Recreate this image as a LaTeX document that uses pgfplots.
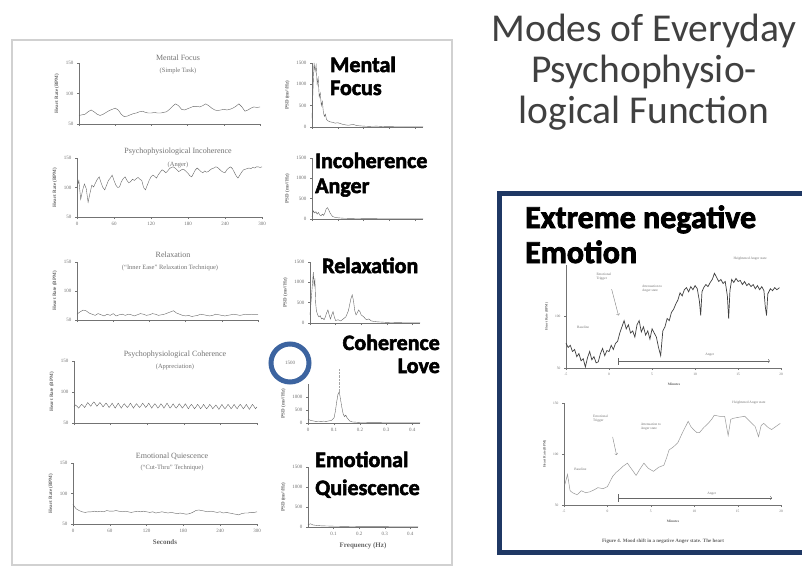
\documentclass[border=0pt]{standalone}
\usepackage{pgfplots}
\pgfplotsset{compat=1.18}
\usepackage{fontspec}
\setmainfont{Liberation Serif}
\newfontfamily\carl{Carlito}
\newfontfamily\heavy{Carlito}[BoldFeatures={FakeBold=2.5}]
\definecolor{navy}{RGB}{31,56,100}
\definecolor{circ}{RGB}{60,100,160}
\definecolor{ttl}{RGB}{64,64,64}
\pgfplotsset{
 base/.style={scale only axis, axis lines*=left, enlargelimits=false, clip=false,
   axis line style={black!55, line width=0.5pt}, tick style={black!55, line width=0.4pt},
   major tick length=2pt, tick align=outside,
   tick label style={font=\fontsize{5}{5}\selectfont, text=black!55},
   label style={font=\fontsize{5}{5}\selectfont\bfseries, text=black!60},
   /pgf/number format/1000 sep={}, /pgf/number format/assume math mode=true,
   cycle list={{black!60, no marks, line width=0.55pt}}},
 hr/.style={base, xmin=0, xmax=300, ymin=50, ymax=150, ytick={50,100,150},
   xtick={0,60,120,180,240,300}, ylabel={Heart Rate (BPM)}},
 psd/.style={base, xmin=0, xmax=0.43, ymin=0, ymax=1500, ytick={0,500,1000,1500},
   xtick={0,0.1,0.2,0.3,0.4}, ylabel={PSD (ms²/Hz)}},
 mood/.style={base, xmin=-5, xmax=20.1, ymin=50, ymax=150, xtick={-5,0,5,10,15,20},
   ylabel={Heart Rate (BPM)}, xlabel={Minutes},
   tick label style={font=\fontsize{3.5}{3.5}\selectfont, text=black!55},
   label style={font=\fontsize{3.5}{3.5}\selectfont\bfseries, text=black!60}},
}
\tikzset{ann/.style={font=\fontsize{3.5}{4}\selectfont, text=black!55, align=left}}
\begin{document}
\begin{tikzpicture}[x=1pt,y=1pt]
\fill[white] (0,0) rectangle (802,574);
\draw[black!18, line width=1.2pt] (12,534) rectangle (452,9);

% ---------- Row 1 ----------
\begin{axis}[hr, at={(79pt,450pt)}, anchor=south west, width=181pt, height=61pt, xticklabels={}]
\addplot coordinates {(0,64)(5,65)(10,66)(15,70)(20,73)(25,70)(30,66)(35,64)(40,66)(45,69)(50,72)(55,74)(60,76)(65,73)(70,66)(75,62)(80,63)(85,65)(90,67)(95,68)(100,70)(105,71)(110,69)(115,68)(120,68)(125,69)(130,68)(135,68)(140,69)(145,70)(150,74)(155,79)(160,83)(165,80)(170,74)(175,73)(180,75)(185,77)(190,79)(195,79)(200,78)(205,80)(210,83)(215,80)(220,76)(225,73)(230,72)(235,73)(240,74)(245,73)(250,74)(255,76)(260,79)(265,83)(270,78)(275,71)(280,73)(285,76)(290,78)(295,77)(300,78)};
\end{axis}
\begin{axis}[psd, at={(312pt,447pt)}, anchor=south west, width=111pt, height=64pt, xticklabels={}]
\addplot coordinates {(0,200)(0.004,900)(0.008,1500)(0.012,1300)(0.016,1450)(0.02,1000)(0.024,1150)(0.028,700)(0.032,800)(0.036,500)(0.04,600)(0.044,350)(0.048,250)(0.052,300)(0.056,180)(0.06,150)(0.07,120)(0.08,110)(0.09,90)(0.1,100)(0.11,80)(0.12,60)(0.13,50)(0.14,40)(0.15,50)(0.16,60)(0.17,40)(0.18,30)(0.2,20)(0.22,15)(0.25,20)(0.28,10)(0.3,8)(0.35,5)(0.4,3)(0.43,2)};
\end{axis}

% ---------- Row 2 ----------
\begin{axis}[hr, at={(77pt,357pt)}, anchor=south west, width=185pt, height=59pt]
\addplot coordinates {(0,100)(3,112)(6,80)(9,95)(12,106)(15,98)(18,75)(21,90)(24,104)(27,101)(30,108)(33,114)(36,118)(39,108)(42,100)(45,96)(48,104)(51,112)(54,116)(57,121)(60,112)(63,104)(66,100)(69,101)(72,110)(75,115)(78,118)(81,112)(84,108)(87,110)(90,114)(93,112)(96,115)(99,117)(102,114)(105,112)(108,100)(111,96)(114,104)(117,112)(120,118)(123,121)(126,119)(129,116)(132,122)(135,126)(138,130)(141,128)(144,125)(147,128)(150,132)(153,134)(156,135)(159,133)(162,130)(165,127)(168,129)(171,131)(174,130)(177,127)(180,124)(183,120)(186,118)(189,124)(192,130)(195,133)(198,130)(201,127)(204,125)(207,128)(210,126)(213,127)(216,130)(219,132)(222,133)(225,135)(228,134)(231,131)(234,128)(237,126)(240,125)(243,130)(246,133)(249,135)(252,132)(255,126)(258,120)(261,116)(264,121)(267,126)(270,130)(273,131)(276,132)(279,133)(282,132)(285,134)(288,133)(291,135)(294,135)(297,134)(300,135)};
\end{axis}
\begin{axis}[psd, at={(312pt,355pt)}, anchor=south west, width=111pt, height=61pt, xticklabels={}]
\addplot coordinates {(0,50)(0.005,200)(0.01,150)(0.015,180)(0.02,120)(0.025,160)(0.03,100)(0.035,80)(0.04,120)(0.045,90)(0.05,150)(0.055,250)(0.06,280)(0.065,220)(0.07,150)(0.075,100)(0.08,60)(0.09,40)(0.1,30)(0.12,20)(0.15,15)(0.2,10)(0.3,5)(0.43,2)};
\end{axis}

% ---------- Row 3 ----------
\begin{axis}[hr, at={(77pt,254pt)}, anchor=south west, width=181pt, height=58pt, xticklabels={}]
\addplot coordinates {(0,60)(5,64)(10,67)(15,66)(20,62)(25,60)(30,58)(35,61)(40,59)(45,57)(50,60)(55,58)(60,61)(65,57)(70,59)(75,60)(80,58)(85,60)(90,59)(95,57)(100,59)(105,61)(110,60)(115,58)(120,59)(125,61)(130,60)(135,58)(140,59)(145,60)(150,62)(155,64)(160,66)(165,62)(170,60)(175,58)(180,57)(185,58)(190,56)(195,57)(200,58)(205,60)(210,59)(215,58)(220,57)(225,58)(230,60)(235,59)(240,58)(245,57)(250,58)(255,59)(260,60)(265,59)(270,58)(275,59)(280,60)(285,59)(290,60)(295,59)(300,60)};
\end{axis}
\begin{axis}[psd, at={(310pt,251pt)}, anchor=south west, width=110pt, height=61pt, xticklabels={}]
\addplot coordinates {(0,200)(0.005,600)(0.01,1000)(0.013,1250)(0.016,900)(0.019,1100)(0.022,500)(0.025,300)(0.03,200)(0.035,150)(0.04,180)(0.045,100)(0.05,120)(0.055,80)(0.06,150)(0.065,250)(0.07,320)(0.075,200)(0.08,100)(0.085,200)(0.09,280)(0.095,150)(0.1,60)(0.11,80)(0.12,50)(0.13,100)(0.14,150)(0.15,300)(0.155,450)(0.16,600)(0.165,690)(0.17,550)(0.175,300)(0.18,200)(0.185,250)(0.19,320)(0.195,280)(0.2,200)(0.21,150)(0.22,80)(0.23,100)(0.24,50)(0.26,30)(0.3,15)(0.35,8)(0.43,3)};
\end{axis}

% ---------- Row 4 ----------
\begin{axis}[hr, at={(74pt,151pt)}, anchor=south west, width=183pt, height=62pt, xticklabels={}]
\addplot coordinates {(0,76)(2.5,79)(5,77)(7.5,74)(10,77)(12.5,80)(15,78)(17.5,75)(20,79)(22.5,83)(25,80)(27.5,77)(30,81)(32.5,84)(35,81)(37.5,77)(40,80)(42.5,83)(45,80)(47.5,76)(50,79)(52.5,82)(55,79)(57.5,75)(60,78)(62.5,82)(65,78)(67.5,74)(70,78)(72.5,82)(75,78)(77.5,74)(80,78)(82.5,81)(85,78)(87.5,75)(90,78)(92.5,82)(95,78)(97.5,74)(100,78)(102.5,81)(105,78)(107.5,75)(110,78)(112.5,82)(115,79)(117.5,75)(120,78)(122.5,82)(125,78)(127.5,74)(130,78)(132.5,81)(135,78)(137.5,74)(140,77)(142.5,81)(145,78)(147.5,74)(150,78)(152.5,82)(155,78)(157.5,74)(160,77)(162.5,81)(165,77)(167.5,74)(170,77)(172.5,81)(175,78)(177.5,74)(180,77)(182.5,81)(185,77)(187.5,73)(190,77)(192.5,80)(195,77)(197.5,73)(200,76)(202.5,80)(205,77)(207.5,73)(210,76)(212.5,80)(215,76)(217.5,73)(220,76)(222.5,80)(225,77)(227.5,73)(230,76)(232.5,79)(235,76)(237.5,72)(240,76)(242.5,80)(245,76)(247.5,73)(250,76)(252.5,80)(255,77)(257.5,73)(260,76)(262.5,80)(265,76)(267.5,73)(270,77)(272.5,80)(275,77)(277.5,73)(280,76)(282.5,80)(285,76)(287.5,72)(290,76)(292.5,80)(295,77)(297.5,73)(300,76)};
\end{axis}
\begin{axis}[psd, at={(308pt,151pt)}, anchor=south west, width=112pt, height=39pt, ytick={0,500,1000}]
\addplot coordinates {(0,150)(0.01,100)(0.02,80)(0.03,60)(0.04,70)(0.05,60)(0.06,70)(0.07,60)(0.08,80)(0.09,100)(0.1,200)(0.105,450)(0.11,800)(0.115,1100)(0.12,1200)(0.125,900)(0.13,600)(0.135,350)(0.14,250)(0.145,300)(0.15,200)(0.16,80)(0.17,40)(0.2,20)(0.25,15)(0.3,10)(0.35,8)(0.43,5)};
\addplot[black!35, densely dotted, line width=0.4pt] coordinates {(0.12,1200)(0.12,2100)};
\end{axis}

% ---------- Row 5 ----------
\begin{axis}[hr, at={(73pt,50pt)}, anchor=south west, width=184pt, height=61pt, xlabel={Seconds},
  xlabel style={font=\fontsize{7}{7}\selectfont\bfseries}]
\addplot coordinates {(0,82)(5,75)(10,72)(15,70)(20,69)(25,70)(30,70)(35,71)(40,70)(45,71)(50,70)(55,72)(60,71)(65,71)(70,72)(75,71)(80,70)(85,71)(90,70)(95,69)(100,70)(105,71)(110,70)(115,71)(120,70)(125,69)(130,70)(135,68)(140,69)(145,70)(150,69)(155,68)(160,69)(165,68)(170,67)(175,68)(180,67)(185,66)(190,67)(195,69)(200,72)(205,73)(210,72)(215,71)(220,70)(225,71)(230,70)(235,69)(240,70)(245,68)(250,69)(255,68)(260,67)(265,66)(270,65)(275,67)(280,68)(285,68)(290,69)(295,69)(300,70)};
\end{axis}
\begin{axis}[psd, at={(308pt,47pt)}, anchor=south west, width=110pt, height=60pt, xtick={0.1,0.2,0.3,0.4},
  xlabel={Frequency (Hz)}, xlabel style={font=\fontsize{7}{7}\selectfont\bfseries}]
\addplot coordinates {(0,60)(0.01,80)(0.02,50)(0.05,30)(0.1,20)(0.2,10)(0.3,8)(0.43,5)};
\end{axis}

% ---------- small chart titles ----------
\begin{scope}[every node/.style={text=black!55, inner sep=0pt}]
\node[font=\fontsize{8}{8}\selectfont] at (178,516) {Mental Focus};
\node[font=\fontsize{6.5}{6.5}\selectfont] at (178,503) {(Simple Task)};
\node[font=\fontsize{8}{8}\selectfont] at (178,422) {Psychophysiological Incoherence};
\node[font=\fontsize{6.5}{6.5}\selectfont] at (178,409) {(Anger)};
\node[font=\fontsize{8}{8}\selectfont] at (173,319) {Relaxation};
\node[font=\fontsize{6.5}{6.5}\selectfont] at (170,306) {(“Inner Ease” Relaxation Technique)};
\node[font=\fontsize{8}{8}\selectfont] at (175,219) {Psychophysiological Coherence};
\node[font=\fontsize{6.5}{6.5}\selectfont] at (175,207) {(Appreciation)};
\node[font=\fontsize{8}{8}\selectfont] at (172,118) {Emotional Quiescence};
\node[font=\fontsize{6.5}{6.5}\selectfont] at (172,106) {(“Cut-Thru” Technique)};
\end{scope}

% ---------- highlight circle ----------
\draw[circ, line width=5pt] (290,211) circle (19);
\node[font=\fontsize{5}{5}\selectfont, text=black!55] at (290,211) {1500};

% ---------- heavy labels ----------
\begin{scope}[every node/.style={font=\heavy\bfseries\fontsize{22}{22}\selectfont, text=black, inner sep=0pt}]
\node[anchor=base west] at (330,502) {Mental};
\node[anchor=base west] at (330,479) {Focus};
\node[anchor=base west] at (315,406) {Incoherence};
\node[anchor=base west] at (315,381) {Anger};
\node[anchor=base west] at (322,301) {Relaxation};
\node[anchor=base east] at (440,224) {Coherence};
\node[anchor=base east] at (440,201) {Love};
\node[anchor=base west] at (315,107) {Emotional};
\node[anchor=base west] at (315,79) {Quiescence};
\end{scope}

% ---------- right title ----------
\begin{scope}[every node/.style={font=\carl\fontsize{39.5}{39.5}\selectfont, text=ttl, inner sep=0pt, anchor=base}]
\node at (644,532) {Modes of Everyday};
\node at (644,491) {Psychophysio-};
\node at (644,450) {logical Function};
\end{scope}

% ---------- blue box ----------
\draw[navy, line width=5pt] (499,381) rectangle (812,22);
\node[font=\heavy\bfseries\fontsize{32}{32}\selectfont, inner sep=0pt, anchor=base west] at (525,346) {Extreme negative};
\node[font=\heavy\bfseries\fontsize{32}{32}\selectfont, inner sep=0pt, anchor=base west] at (525,311) {Emotion};

\begin{axis}[mood, at={(566pt,206pt)}, anchor=south west, width=216pt, height=103pt, ytick={50,100}]
\addplot[black!75, line width=0.7pt] coordinates {(-5.0,74)(-4.75,70)(-4.5,72)(-4.25,66)(-4.0,68)(-3.75,61)(-3.5,64)(-3.25,57)(-3.0,59)(-2.75,51)(-2.5,60)(-2.25,66)(-2.0,58)(-1.75,61)(-1.5,55)(-1.25,56)(-1.0,64)(-0.75,69)(-0.5,62)(-0.25,67)(0.0,66)(0.25,72)(0.5,68)(0.75,74)(1.0,76)(1.25,84)(1.5,90)(1.75,96)(2.0,88)(2.25,92)(2.5,84)(2.75,86)(3.0,80)(3.25,92)(3.5,96)(3.75,85)(4.0,90)(4.25,82)(4.5,86)(4.75,78)(5.0,88)(5.25,84)(5.5,80)(5.75,70)(6.0,62)(6.25,86)(6.5,90)(6.75,98)(7.0,96)(7.25,104)(7.5,107)(7.75,112)(8.0,116)(8.25,123)(8.5,120)(8.75,126)(9.0,128)(9.25,124)(9.5,129)(9.75,126)(10.0,130)(10.25,127)(10.5,115)(10.65,101)(10.8,124)(11.0,128)(11.25,131)(11.5,129)(11.75,133)(12.0,136)(12.25,142)(12.5,138)(12.75,134)(13.0,136)(13.25,132)(13.5,134)(13.75,120)(13.9,98)(14.05,125)(14.25,136)(14.5,133)(14.75,137)(15.0,134)(15.25,135)(15.5,131)(15.75,134)(16.0,130)(16.25,132)(16.5,129)(16.75,131)(17.0,127)(17.25,130)(17.5,126)(17.75,129)(18.0,125)(18.15,110)(18.3,101)(18.45,122)(18.75,127)(19.0,125)(19.25,128)(19.5,126)(19.8,128)};
\draw[black!60, line width=0.5pt, ->] (axis cs:1.05,56.7) -- (axis cs:18.7,56.7);
\draw[black!60, line width=0.5pt] (axis cs:1.05,53) -- (axis cs:1.05,60);
\draw[black!50, line width=0.4pt, ->] (axis cs:0.3,126.6) -- (axis cs:1.1,101);
\node[ann] at (axis cs:-3.0,89.4) {Baseline};
\node[ann] at (axis cs:-0.6,139) {Emotional\\Trigger};
\node[ann] at (axis cs:5,127) {Attenuation to\\Anger state};
\node[ann] at (axis cs:16.4,156) {Heightened Anger state};
\node[ann] at (axis cs:11.7,62.5) {Anger};
\end{axis}

\begin{axis}[mood, at={(564pt,69pt)}, anchor=south west, width=218pt, height=102pt, ytick={50,100,150}]
\addplot[black!40, line width=0.5pt] coordinates {(-4.9,70)(-4.6,80)(-4.3,64)(-4.0,62)(-3.5,60)(-3.0,64)(-2.5,62)(-2.0,63)(-1.5,65)(-1.1,67)(-0.5,66)(0.0,68)(0.3,73)(0.6,78)(1.0,82)(1.3,84)(1.8,88)(2.3,91)(2.8,85)(3.3,79)(3.8,86)(4.2,91)(4.7,86)(5.3,83)(5.9,87)(6.5,89)(6.8,96)(7.1,104)(7.6,107)(8.1,111)(8.7,122)(9.3,132)(9.6,127)(9.9,124)(10.3,121)(10.6,121)(11.1,126)(11.6,130)(12.0,134)(12.3,138)(12.9,137)(13.5,137)(13.9,118)(14.2,134)(14.5,135)(15.1,136)(15.8,137)(16.4,132)(17.0,127)(17.4,117)(17.7,128)(18.0,130)(18.5,126)(18.9,124)(19.4,127)(19.9,130)};
\draw[black!60, line width=0.5pt, ->] (axis cs:1.2,56.9) -- (axis cs:18.95,56.9);
\draw[black!60, line width=0.5pt] (axis cs:1.2,53) -- (axis cs:1.2,61);
\draw[black!50, line width=0.4pt, ->] (axis cs:0.6,116.7) -- (axis cs:1.05,99);
\node[ann] at (axis cs:-3.1,85) {Baseline};
\node[ann] at (axis cs:-0.8,135) {Emotional\\Trigger};
\node[ann] at (axis cs:5,126.5) {Attenuation to\\Anger state};
\node[ann] at (axis cs:16.3,150) {Heightened Anger state};
\node[ann] at (axis cs:12,61) {Anger};
\end{axis}
\node[font=\fontsize{5}{5}\selectfont\bfseries, text=black!60] at (663,33) {Figure 4. Mood shift in a negative Anger state. The heart};

\pgfresetboundingbox
\path[use as bounding box] (0,0) rectangle (802,574);
\end{tikzpicture}
\end{document}
